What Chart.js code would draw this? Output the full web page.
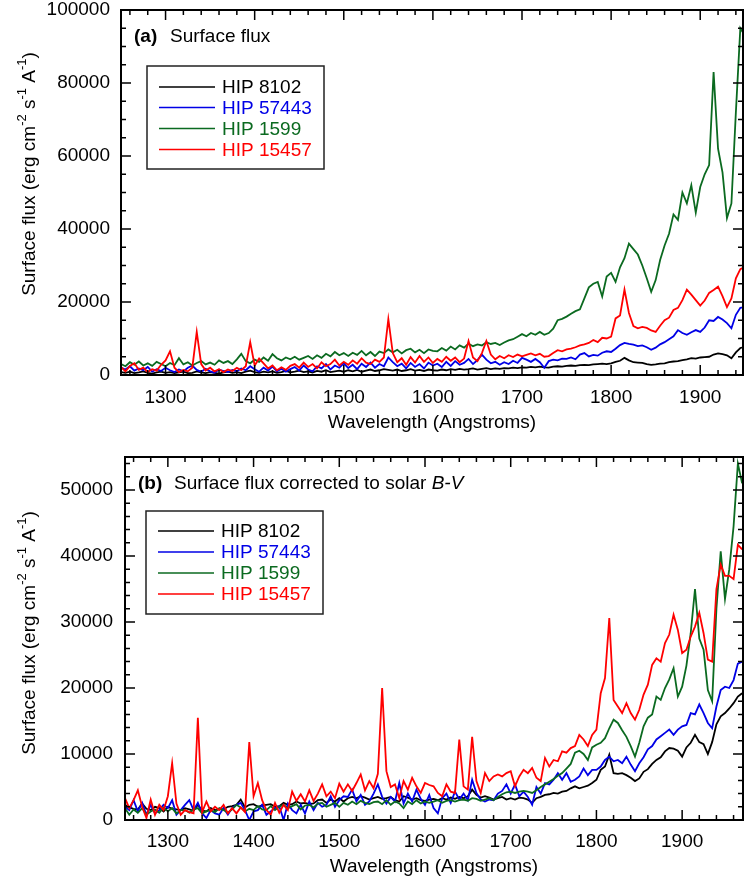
<!DOCTYPE html>
<html>
<head>
<meta charset="utf-8">
<script src="https://cdn.jsdelivr.net/npm/chart.js@4.4.0/dist/chart.umd.min.js"></script>
<style>
  html, body { margin: 0; padding: 0; background: #fff; }
  #wrap { position: relative; width: 744px; height: 882px; }
  canvas { position: absolute; left: 0; }
</style>
</head>
<body>
<div id="wrap">
  <canvas id="chartA" width="744" height="441" style="top:0"></canvas>
  <canvas id="chartB" width="744" height="441" style="top:441px"></canvas>
</div>
<script>
// wavelength grid (Angstroms), 5 A steps
const wavelengthsB = [
  1250,1255,1260,1265,1270,1275,1280,1285,1290,1295,
  1300,1305,1310,1315,1320,1325,1330,1335,1340,1345,
  1350,1355,1360,1365,1370,1375,1380,1385,1390,1395,
  1400,1405,1410,1415,1420,1425,1430,1435,1440,1445,
  1450,1455,1460,1465,1470,1475,1480,1485,1490,1495,
  1500,1505,1510,1515,1520,1525,1530,1535,1540,1545,
  1550,1555,1560,1565,1570,1575,1580,1585,1590,1595,
  1600,1605,1610,1615,1620,1625,1630,1635,1640,1645,
  1650,1655,1660,1665,1670,1675,1680,1685,1690,1695,
  1700,1705,1710,1715,1720,1725,1730,1735,1740,1745,
  1750,1755,1760,1765,1770,1775,1780,1785,1790,1795,
  1800,1805,1810,1815,1820,1825,1830,1835,1840,1845,
  1850,1855,1860,1865,1870,1875,1880,1885,1890,1895,
  1900,1905,1910,1915,1920,1925,1930,1935,1940,1945,
  1950,1955,1960,1965,1970
];
const wavelengthsA = wavelengthsB.slice(0, 141); // 1250..1950

const xTickValues = [1300, 1400, 1500, 1600, 1700, 1800, 1900];
const yTickValuesA = [0, 20000, 40000, 60000, 80000, 100000];
const yTickValuesB = [0, 10000, 20000, 30000, 40000, 50000];

const starNames = ['HIP 8102', 'HIP 57443', 'HIP 1599', 'HIP 15457'];
const starColors = ['#000000', '#0000e6', '#0b6a20', '#ff0000'];

// (a) surface flux, erg cm-2 s-1 A-1
const fluxA_8102 = [
  800,600,900,500,700,1000,600,400,700,900,
  600,800,500,700,900,500,600,1000,700,500,
  800,600,400,700,900,600,800,500,900,1200,
  800,600,900,700,1000,600,800,1100,700,900,
  1200,800,1000,700,1100,900,1300,800,1000,1200,
  900,1300,1000,1400,900,1200,1500,1100,1300,1600,
  1400,1200,1500,1100,1300,1600,1200,1400,1100,1500,
  1300,1200,1500,1300,1600,1400,1700,1500,1600,1800,
  1500,1700,1900,1600,1800,1700,1900,1800,2000,1900,
  2100,2000,2200,2100,2300,2100,2000,2300,2400,2300,
  2500,2600,2500,2700,2800,2700,2900,3000,3100,3000,
  3200,3600,3900,4700,4000,3500,3400,3300,3000,2800,
  2900,3100,3200,3500,3700,3800,4100,4300,4600,4500,
  4800,4900,5000,5600,5900,5700,5400,4600,6200,7400,
  7700
];
const fluxA_57443 = [
  2000,1500,2400,1200,1800,1300,2200,900,1600,1100,
  2000,1300,800,1500,1000,2000,2600,1400,900,1700,
  1000,600,1500,1100,800,1400,1000,1800,1300,2400,
  1600,900,2000,1200,2300,1000,1700,900,1600,2200,
  1200,2600,1500,1000,2400,1800,3000,1500,2600,2000,
  3200,1900,2800,1600,3100,2200,3400,2000,3000,2400,
  4800,3500,2400,3100,1800,3300,2200,3000,1800,3400,
  2600,3100,2200,3600,2500,3800,2800,3300,4400,3000,
  4100,5600,4200,3200,3600,2800,3500,3000,3900,3300,
  4700,4200,3600,4400,3500,2000,3800,4200,4000,4500,
  4400,4800,4300,5600,6000,5100,5500,5300,6100,6500,
  6300,7200,8200,8800,8500,8300,7900,8100,7600,6900,
  7500,8400,9000,9800,10600,12300,11500,11000,11700,12300,
  11800,13000,15000,14800,15900,15200,14200,12800,16500,18400,
  18600
];
const fluxA_1599 = [
  3000,2400,3500,2800,3700,2600,3200,2500,3600,3000,
  2400,3300,2700,4600,2900,3500,2600,3300,3800,2900,
  3400,2800,4000,3300,3800,3000,4300,5800,3800,3200,
  4200,3600,4800,3900,5700,4600,4000,4800,4300,5000,
  4200,4700,5200,4400,5400,4700,5800,5100,6300,5400,
  6000,5200,6100,5500,6600,5400,6300,5200,6400,6000,
  7000,6200,6900,5900,6800,7200,6200,6900,6000,7000,
  6600,6500,7400,6700,7800,7000,8100,7500,8600,7900,
  8400,8100,9000,8500,8800,8200,8900,9500,9800,10500,
  11200,10600,11500,11000,11800,11000,11500,12700,15000,15400,
  16000,16800,17500,18000,21000,24000,25000,25500,21500,27000,
  28000,25500,29500,32000,36000,34500,33000,30000,26500,22800,
  26000,31500,35500,38700,44000,42500,50000,47000,52000,44500,
  51500,55000,57500,83000,62000,55500,43000,47000,72000,95000,
  93000
];
const fluxA_15457 = [
  2200,1000,2500,3200,1400,2000,800,1600,1200,2800,
  4000,6500,2000,800,1400,1000,2000,11800,3000,1200,
  2000,1000,1600,800,1500,1100,2000,1300,2400,9000,
  2600,4500,3200,1800,2600,1300,2100,1400,2500,3000,
  2000,3400,2200,3000,1800,3500,2400,3000,4200,2600,
  3600,2800,4000,3100,4600,3400,3000,4200,3600,4800,
  15300,6000,3500,4600,2800,4900,3400,5200,3600,4800,
  3300,4400,3600,5000,3900,4800,3500,4500,9300,4800,
  3800,6000,9300,5600,4300,5200,4600,5400,4900,5600,
  5100,5500,5900,5400,5800,5000,5200,6000,6800,6500,
  7000,7200,7600,8100,8400,8800,9600,9000,10200,10000,
  10500,15500,16300,23400,17000,13400,12800,13200,12900,12200,
  11800,13500,15000,15700,17800,18400,20500,23400,22000,20500,
  19000,20400,22500,23300,24200,21600,18600,21000,26500,29000,
  29600
];

// (b) surface flux corrected to solar B-V
const fluxB_8102 = [
  2300,1900,1700,1600,2500,1700,1500,2000,1800,1300,
  2000,1700,1600,1500,1800,1600,1400,2300,1400,1300,
  1800,1500,1600,1600,2000,2100,2300,3100,1900,2300,
  2400,2000,2200,2300,2400,2000,2100,2600,2300,2400,
  2800,2500,2600,2400,2500,3000,3100,2600,3100,2800,
  3300,2800,3300,3500,3300,3600,3400,3100,3300,3500,
  3200,3300,3500,3000,2800,3600,3400,3100,3300,3000,
  2900,3100,3200,3000,3300,3100,3400,3200,3500,3300,
  3600,4600,3800,3400,3600,3400,3100,3300,3500,3100,
  3300,3100,3400,3300,3100,2600,3300,3500,3800,3900,
  4100,4000,4300,4400,4800,5100,4800,5000,5200,5600,
  6100,7600,8100,9900,7100,7000,7100,6800,6400,5900,
  6300,7300,7700,8500,9100,9500,10400,10900,10800,10500,
  9600,11000,11700,12900,11800,11500,10000,11800,14500,15700,
  16200,16900,17700,18700,19200
];
const fluxB_57443 = [
  2000,1500,3000,1300,2600,800,2300,1000,1500,2300,
  1800,3000,800,1500,2300,3000,1500,2600,1000,300,
  1500,1000,800,1800,800,1800,2300,2600,1500,0,
  1300,1500,2300,800,1300,1800,2100,0,2500,1500,
  1000,2300,1000,2800,1500,2600,2000,2300,3600,2000,
  3000,3600,3500,4600,2800,3800,2300,2800,4000,5400,
  3500,2500,3500,2800,5600,2500,4000,2800,4600,3200,
  2300,3800,1800,1000,3300,4000,2600,4300,3100,4000,
  3000,6100,4100,3100,2800,3100,3000,4000,4400,5400,
  4000,5400,3600,4300,3500,2300,5000,4000,5600,5400,
  6100,7100,6100,7100,5800,6100,6600,7800,6800,7600,
  7600,8100,9100,9600,8900,9100,8600,9600,8400,7400,
  8600,9500,10700,11200,12200,12700,13200,13700,12900,13700,
  14200,14400,16200,16000,17500,16200,14700,13900,17200,19700,
  20200,20000,21200,23700,24000
];
const fluxB_1599 = [
  1800,800,1600,1100,1800,800,1300,1600,1100,1900,
  1300,1800,1000,1500,1500,1100,1600,1800,1000,1300,
  1500,1200,1800,1500,1100,1600,2300,1900,1300,1700,
  1500,2100,1600,1500,2100,1500,2000,2300,1800,2100,
  2400,1600,2200,2300,1900,2500,2600,2000,2300,2600,
  2000,2600,2300,2800,2400,2900,2600,2400,2700,2800,
  2400,3000,2300,2800,2500,1800,2800,2400,3000,2500,
  2800,2600,2800,3000,2600,2900,3000,2800,3000,3100,
  2900,3300,3200,2900,3100,3300,3000,3500,3900,4200,
  4300,4100,4300,4400,4300,4100,4500,5000,5400,5800,
  6200,6700,7100,7800,8500,10200,10500,10000,9100,11000,
  11400,11700,12400,13900,15200,14700,13600,12600,11200,9600,
  11700,14200,15500,16000,18700,18200,20000,21300,23000,18700,
  20200,23400,28300,35000,27500,25800,19700,18000,32000,40700,
  33500,38000,44500,54000,51000
];
const fluxB_15457 = [
  3300,1800,3000,4500,2000,300,3100,800,2300,1500,
  3600,8600,2500,800,1500,1200,1000,15500,1200,2800,
  1300,2000,1500,2300,1000,1800,1000,1900,1200,11800,
  3600,5600,3000,1500,800,2600,1100,2300,1500,4300,
  2900,3900,2800,4500,2900,4000,5400,3600,4300,3300,
  5500,4300,5400,4400,5600,6900,4500,5900,4800,7000,
  20000,7400,5000,5400,3300,5900,4600,6400,5100,4100,
  5600,5300,5100,4100,3600,5400,4300,4100,12200,5100,
  4600,12600,5900,4100,7100,5900,6600,6900,6600,7100,
  7400,5100,6600,7600,7100,7900,6400,5900,9400,8100,
  9100,8900,10400,10200,10900,11200,12900,12200,11200,12900,
  13700,19200,21500,30600,18200,17200,16200,17700,16200,15200,
  16700,19000,20500,23500,24500,24000,26800,28100,31100,28800,
  25300,25800,27800,29300,31400,28300,24300,24000,35000,38700,
  37000,37000,36500,41700,41000
];

Chart.defaults.font.family = "'Liberation Sans', Arial, sans-serif";
Chart.defaults.font.size = 19;
Chart.defaults.color = '#000';

// frame, inward ticks, legend box, panel label and axis titles
const decorPlugin = {
  id: 'decor',
  afterDraw(chart, args, o) {
    const { ctx, chartArea: ca } = chart;
    const x = chart.scales.x, y = chart.scales.y;
    ctx.save();

    ctx.strokeStyle = '#000';
    ctx.lineWidth = 1.5;
    ctx.beginPath();
    for (let v = Math.ceil(x.min / o.xMinor) * o.xMinor; v <= x.max; v += o.xMinor) {
      const px = x.getPixelForValue(v);
      const len = v % o.xMajor === 0 ? 10 : 5;
      ctx.moveTo(px, ca.bottom); ctx.lineTo(px, ca.bottom - len);
      ctx.moveTo(px, ca.top); ctx.lineTo(px, ca.top + len);
    }
    for (let v = Math.ceil(y.min / o.yMinor) * o.yMinor; v <= y.max; v += o.yMinor) {
      const py = y.getPixelForValue(v);
      const len = v % o.yMajor === 0 ? 10 : 5;
      ctx.moveTo(ca.left, py); ctx.lineTo(ca.left + len, py);
      ctx.moveTo(ca.right, py); ctx.lineTo(ca.right - len, py);
    }
    ctx.stroke();

    ctx.lineWidth = 2;
    ctx.strokeRect(ca.left, ca.top, ca.right - ca.left, ca.bottom - ca.top);

    // panel label
    ctx.fillStyle = '#000';
    ctx.textBaseline = 'middle';
    ctx.textAlign = 'left';
    ctx.font = "bold 19px 'Liberation Sans', Arial, sans-serif";
    ctx.fillText(o.tag, o.tagX, o.tagY);
    ctx.font = "19px 'Liberation Sans', Arial, sans-serif";
    ctx.fillText(o.caption, o.capX, o.tagY);
    if (o.captionItalic) {
      const w = ctx.measureText(o.caption).width;
      ctx.font = "italic 19px 'Liberation Sans', Arial, sans-serif";
      ctx.fillText(o.captionItalic, o.capX + w, o.tagY);
    }

    // legend
    const L = o.legend;
    ctx.lineWidth = 1.5;
    ctx.strokeStyle = '#222';
    ctx.strokeRect(L.left, L.top, L.right - L.left, L.bottom - L.top);
    ctx.font = "19px 'Liberation Sans', Arial, sans-serif";
    chart.data.datasets.forEach((ds, i) => {
      const ry = L.rows[i];
      ctx.strokeStyle = ds.borderColor;
      ctx.lineWidth = 1.6;
      ctx.beginPath();
      ctx.moveTo(L.lineX0, ry); ctx.lineTo(L.lineX1, ry);
      ctx.stroke();
      ctx.fillStyle = ds.borderColor;
      ctx.fillText(ds.label, L.textX, ry + 1);
    });

    // x axis title
    ctx.fillStyle = '#000';
    ctx.textAlign = 'center';
    ctx.fillText('Wavelength (Angstroms)', (ca.left + ca.right) / 2, o.xTitleY);

    // y axis title with superscripts
    const parts = [
      ['Surface flux (erg cm', false], ['-2', true], [' s', false], ['-1', true],
      [' A', false], ['-1', true], [')', false]
    ];
    const fN = "19px 'Liberation Sans', Arial, sans-serif";
    const fS = "13px 'Liberation Sans', Arial, sans-serif";
    let total = 0;
    parts.forEach(p => { ctx.font = p[1] ? fS : fN; total += ctx.measureText(p[0]).width; });
    ctx.translate(o.yTitleX, o.yTitleMid);
    ctx.rotate(-Math.PI / 2);
    ctx.textAlign = 'left';
    ctx.textBaseline = 'alphabetic';
    let cx = -total / 2;
    parts.forEach(p => {
      ctx.font = p[1] ? fS : fN;
      ctx.fillText(p[0], cx, p[1] ? -9 : 0);
      cx += ctx.measureText(p[0]).width;
    });
    ctx.restore();
  }
};

function makeChart(id, wavelengths, series, c) {
  const datasets = series.map((vals, i) => ({
    label: starNames[i],
    data: wavelengths.map((w, k) => ({ x: w, y: vals[k] })),
    borderColor: starColors[i],
    borderWidth: 1.8,
    pointRadius: 0,
    tension: 0,
    order: 4 - i
  }));
  return new Chart(document.getElementById(id), {
    type: 'line',
    data: { datasets },
    plugins: [decorPlugin],
    options: {
      responsive: false,
      animation: false,
      devicePixelRatio: 1,
      layout: { padding: { top: c.top, right: 1, left: 0, bottom: 0 } },
      scales: {
        x: {
          type: 'linear', min: 1250, max: c.xMax,
          grid: { display: false }, border: { display: false },
          ticks: { padding: c.xPad, maxRotation: 0, autoSkip: false, color: '#000',
                   callback: v => String(v) },
          afterBuildTicks(s) { s.ticks = xTickValues.map(v => ({ value: v })); },
          afterFit(s) { s.height = c.xHeight; s.paddingLeft = 0; s.paddingRight = 0; }
        },
        y: {
          min: 0, max: c.yMax,
          grid: { display: false }, border: { display: false },
          ticks: { padding: c.yPad, color: '#000', font: { size: 19, lineHeight: 1 },
                   callback: v => String(v) },
          afterBuildTicks(s) { s.ticks = c.yTicks.map(v => ({ value: v })); },
          afterFit(s) { s.width = c.yWidth; s.paddingTop = 0; s.paddingBottom = 0; }
        }
      },
      plugins: {
        legend: { display: false },
        tooltip: { enabled: false },
        decor: c.decor
      }
    }
  });
}

makeChart('chartA', wavelengthsA, [fluxA_8102, fluxA_57443, fluxA_1599, fluxA_15457], {
  top: 10, xMax: 1948, yMax: 100000, yTicks: yTickValuesA, xHeight: 66, yWidth: 121, xPad: 3, yPad: 3,
  decor: {
    xMinor: 20, xMajor: 100, yMinor: 5000, yMajor: 20000,
    tag: '(a)', tagX: 134, tagY: 37, caption: 'Surface flux', capX: 170,
    legend: { left: 147, top: 66, right: 324, bottom: 169, rows: [87, 107.5, 128.5, 149.5],
              lineX0: 159, lineX1: 215, textX: 222 },
    xTitleY: 423, yTitleX: 35, yTitleMid: 174
  }
});

makeChart('chartB', wavelengthsB, [fluxB_8102, fluxB_57443, fluxB_1599, fluxB_15457], {
  top: 16, xMax: 1971, yMax: 55000, yTicks: yTickValuesB, xHeight: 62, yWidth: 125, xPad: 2, yPad: 4,
  decor: {
    xMinor: 20, xMajor: 100, yMinor: 2000, yMajor: 10000,
    tag: '(b)', tagX: 138, tagY: 43, caption: 'Surface flux corrected to solar ', captionItalic: 'B-V', capX: 174,
    legend: { left: 146, top: 70, right: 323, bottom: 173, rows: [90, 111, 132, 153],
              lineX0: 158, lineX1: 214, textX: 221 },
    xTitleY: 426, yTitleX: 35, yTitleMid: 192
  }
});
</script>
</body>
</html>
